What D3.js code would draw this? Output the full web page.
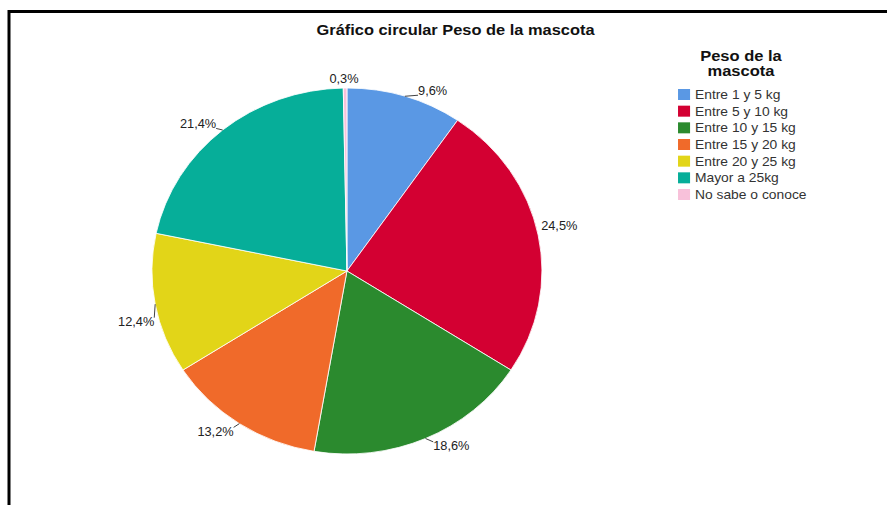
<!DOCTYPE html>
<html>
<head>
<meta charset="utf-8">
<script src="https://cdn.jsdelivr.net/npm/d3@7"></script>
<style>
  html, body { margin: 0; padding: 0; background: #fff; }
  svg { display: block; font-family: "Liberation Sans", Arial, sans-serif; }
</style>
</head>
<body>
<svg id="chart" width="887" height="505"></svg>
<script>
// Pet weight distribution (percent of respondents)
const categories = ["Entre 1 y 5 kg", "Entre 5 y 10 kg", "Entre 10 y 15 kg", "Entre 15 y 20 kg",
                    "Entre 20 y 25 kg", "Mayor a 25kg", "No sabe o conoce"];
const percents = [9.6, 24.5, 18.6, 13.2, 12.4, 21.4, 0.3];
const colors = ["#5a98e4", "#d30032", "#2b8a2e", "#f06a2a", "#e2d518", "#06ae99", "#f8c1da"];
const chartTitle = "Gráfico circular Peso de la mascota";
const legendTitle = ["Peso de la", "mascota"];

// Label fine-placement (dx, dy) per slice, applied after the radial position,
// and whether a leader line connects the label to its slice
const labelNudge = [[8, 2], [-7, -8], [2, 0], [1, 1], [9, 16], [1, 0], [-1, -1]];
const leaderOn = [true, false, true, true, true, true, false];

const W = 887, H = 505;
const sx = 195 / 183;            // the whole chart is drawn slightly wide
const svg = d3.select("#chart");

// Frame (left and top rules)
svg.append("path")
  .attr("d", `M9,${H} V11.5 H${W}`)
  .attr("fill", "none").attr("stroke", "#000").attr("stroke-width", 3);

const g = svg.append("g").attr("transform", `scale(${sx},1)`);

// Title
g.append("text")
  .attr("x", 427.5).attr("y", 35.5)
  .attr("text-anchor", "middle")
  .attr("font-size", 15.4).attr("font-weight", "bold").attr("fill", "#111")
  .text(chartTitle);

// Pie
const cx = 325.6, cy = 271, R = 183;
const data = categories.map((c, i) => ({ cat: c, value: percents[i], color: colors[i], i }));
const pie = d3.pie().sort(null).value(d => d.value);
const arcs = pie(data);
const arc = d3.arc().innerRadius(0).outerRadius(R);

const pg = g.append("g").attr("transform", `translate(${cx},${cy})`);
pg.selectAll("path.slice").data(arcs).join("path")
  .attr("class", "slice")
  .attr("d", arc)
  .attr("fill", d => d.data.color)
  .attr("stroke", "#fff").attr("stroke-width", 0.8);

// Labels with short leader lines
const fmt = v => d3.format(".1f")(v).replace(".", ",") + "%";
arcs.forEach((a, k) => {
  const mid = (a.startAngle + a.endAngle) / 2;
  const s = Math.sin(mid), c = -Math.cos(mid);
  const ex = s * R, ey = c * R;                 // point on the rim
  const px = s * (R + 8), py = c * (R + 8);     // pushed outward
  const anchor = s > 0.2 ? "start" : (s < -0.2 ? "end" : "middle");
  const tx = px + (anchor === "start" ? 2 : anchor === "end" ? -2 : 0) + labelNudge[k][0];
  const ty = py + labelNudge[k][1];
  const t = pg.append("text")
    .attr("x", tx).attr("y", ty).attr("dy", "0.35em")
    .attr("text-anchor", anchor)
    .attr("font-size", 12).attr("fill", "#222")
    .text(fmt(a.data.value));
  if (!leaderOn[k]) return;
  const b = t.node().getBBox();
  const bx0 = b.x, bx1 = b.x + b.width, by0 = b.y + 2.5, by1 = b.y + b.height - 2.5;
  const nx = Math.max(bx0, Math.min(ex, bx1));
  const ny = Math.max(by0, Math.min(ey, by1));
  pg.append("line")
    .attr("x1", ex).attr("y1", ey).attr("x2", nx).attr("y2", ny)
    .attr("stroke", "#333").attr("stroke-width", 0.9);
});

// Legend
const lg = g.append("g");
lg.selectAll("text.ltitle").data(legendTitle).join("text")
  .attr("class", "ltitle")
  .attr("x", 695.4).attr("y", (d, i) => 61.5 + i * 15)
  .attr("text-anchor", "middle")
  .attr("font-size", 15.5).attr("font-weight", "bold").attr("fill", "#111")
  .text(d => d);

const rowY = d3.scalePoint().domain(categories).range([89, 189]);
const item = lg.selectAll("g.item").data(data).join("g")
  .attr("class", "item")
  .attr("transform", d => `translate(636.3,${rowY(d.cat)})`);
item.append("rect")
  .attr("width", 11.3).attr("height", 11)
  .attr("fill", d => d.color);
item.append("text")
  .attr("x", 15.9).attr("y", 10)
  .attr("font-size", 13).attr("fill", "#333")
  .text(d => d.cat);
</script>
</body>
</html>
